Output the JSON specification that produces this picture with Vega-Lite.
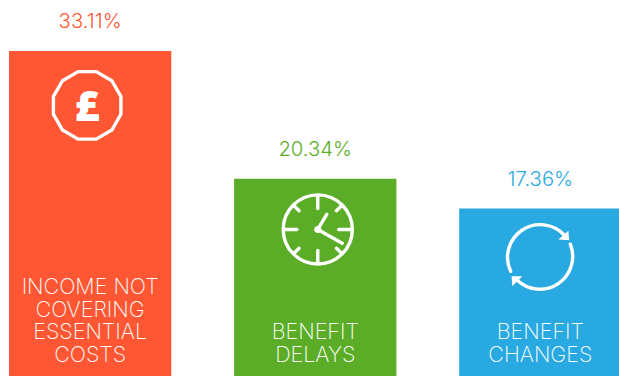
{
  "$schema": "https://vega.github.io/schema/vega-lite/v6.json",
  "width": 619,
  "height": 376,
  "padding": 0,
  "autosize": {"type": "none"},
  "background": "#ffffff",
  "view": {"stroke": null},
  "config": {"style": {"cell": {"stroke": null}}},
  "data": {
    "values": [
      {"reason": "Income not covering essential costs", "share": 0.3311, "caption": ["INCOME NOT", "COVERING", "ESSENTIAL", "COSTS"], "icon": "pound"},
      {"reason": "Benefit delays", "share": 0.2034, "caption": ["BENEFIT", "DELAYS"], "icon": "clock"},
      {"reason": "Benefit changes", "share": 0.1736, "caption": ["BENEFIT", "CHANGES"], "icon": "cycle"}
    ]
  },
  "encoding": {
    "x": {
      "field": "reason",
      "type": "nominal",
      "sort": null,
      "axis": null,
      "scale": {"range": [9, 621.5], "paddingInner": 0.279, "paddingOuter": 0}
    },
    "y": {
      "field": "share",
      "type": "quantitative",
      "axis": null,
      "scale": {"domain": [0, 0.3821], "range": [382.1, 0], "nice": false, "zero": true}
    }
  },
  "resolve": {"scale": {"shape": "independent"}},
  "layer": [
    {
      "mark": {"type": "bar"},
      "encoding": {
        "color": {
          "field": "reason",
          "type": "nominal",
          "legend": null,
          "sort": null,
          "scale": {"range": ["#ff5733", "#5bad28", "#29a9e1"]}
        }
      }
    },
    {
      "mark": {"type": "text", "font": "Inter", "fontWeight": 300, "fontSize": 20.3, "dy": -29, "baseline": "middle", "align": "center"},
      "encoding": {
        "text": {"field": "share", "type": "quantitative", "format": ".2%"},
        "color": {
          "field": "reason",
          "type": "nominal",
          "legend": null,
          "sort": null,
          "scale": {"range": ["#ff5733", "#5bad28", "#29a9e1"]}
        }
      }
    },
    {
      "transform": [{"filter": "datum.icon === 'pound'"}],
      "mark": {"type": "text", "font": "Inter", "fontWeight": 200, "fontSize": 21.5, "lineHeight": 22.6, "baseline": "alphabetic", "align": "center", "color": "#ffffff", "dy": -88},
      "encoding": {
        "y": {"datum": 0},
        "text": {"field": "caption"}
      }
    },
    {
      "transform": [{"filter": "datum.icon !== 'pound'"}],
      "mark": {"type": "text", "font": "Inter", "fontWeight": 200, "fontSize": 21.5, "lineHeight": 22.6, "baseline": "alphabetic", "align": "center", "color": "#ffffff", "dy": -42.8},
      "encoding": {
        "y": {"datum": 0},
        "text": {"field": "caption"}
      }
    },
    {
      "mark": {"type": "point", "filled": false, "strokeWidth": 3.4, "opacity": 1, "color": "#ffffff", "yOffset": 51.5, "size": 5184, "strokeCap": "round"},
      "encoding": {
        "shape": {
          "field": "icon",
          "type": "nominal",
          "legend": null,
          "scale": {
            "domain": ["pound", "clock", "cycle"],
            "range": [
              "M.168,-.857L.603,-.606L.854,-.171L.854,.331L.603,.766L.168,1.017L-.334,1.017L-.769,.766L-1.02,.331L-1.02,-.171L-.769,-.606L-.334,-.857Z",
              "M-.89,-.02A.96,.96 0 1,1 1.03,-.02A.96,.96 0 1,1 -.89,-.02ZM.07,-.92L.07,-.6M.07,.88L.07,.56M-.83,-.02L-.51,-.02M.97,-.02L.65,-.02M-.57,-.66L-.45,-.54M.71,-.66L.59,-.54M-.57,.62L-.45,.5M.71,.62L.59,.5M.07,-.02L.32,-.44M.07,-.02L.75,.36",
              "M-.825,.315A.91,.91 0 0,1 .663,-.694M.832,-.439A.91,.91 0 0,1 -.64,.56"
            ]
          }
        }
      }
    },
    {
      "transform": [{"filter": "datum.icon !== 'pound'"}],
      "mark": {"type": "point", "filled": true, "opacity": 1, "color": "#ffffff", "yOffset": 51.5, "size": 5184},
      "encoding": {
        "shape": {
          "field": "icon",
          "type": "nominal",
          "legend": null,
          "scale": {
            "domain": ["clock", "cycle"],
            "range": [
              "M-.03,-.02A.1,.1 0 1,1 .17,-.02A.1,.1 0 1,1 -.03,-.02Z",
              "M.78,-.81L.8,-.55L.5,-.57ZM-.8,.45L-.5,.45L-.78,.73Z"
            ]
          }
        }
      }
    },
    {
      "transform": [{"filter": "datum.icon === 'pound'"}],
      "mark": {"type": "text", "font": "Open Sans", "fontWeight": 800, "fontSize": 43, "color": "#ffffff", "baseline": "middle", "align": "center", "dx": -3, "dy": 57},
      "encoding": {"text": {"value": "£"}}
    }
  ]
}
